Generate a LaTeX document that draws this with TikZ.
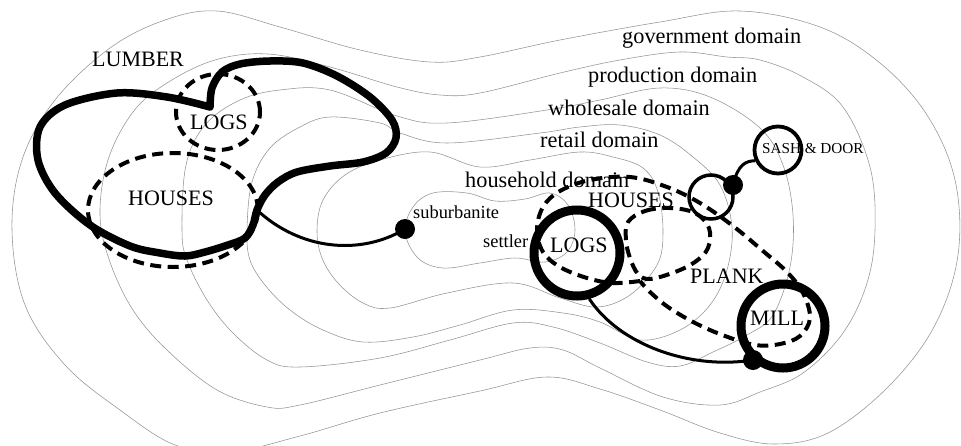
\documentclass[tikz,border=0pt]{standalone}
\usepackage{fontspec}
\setmainfont{Liberation Serif}
\newcommand\fdom{\fontsize{22.3}{26}\selectfont}
\newcommand\fcap{\fontsize{22}{26}\selectfont}
\newcommand\fsml{\fontsize{18.4}{22}\selectfont}
\newcommand\fsash{\fontsize{15.2}{18}\selectfont}
\begin{document}
\begin{tikzpicture}[x=1pt,y=-1pt,
  contour/.style={draw=black!42, line width=0.55pt},
  heavy/.style={line width=7.5pt, line join=round, line cap=round},
  dsh/.style={line width=4pt, dash pattern=on 11pt off 6.5pt},
  conn/.style={line width=3pt},
  dot/.style={circle, fill=black, inner sep=0pt, minimum size=20pt},
  ring/.style={circle, draw, inner sep=0pt},
  lab/.style={inner sep=0pt, anchor=base west, text=black}]

\fill[white] (0,0) rectangle (961,445);
\useasboundingbox (0,0) rectangle (961,445);

% ---------- contours ----------
\begin{scope}
\clip (0,0) rectangle (961,445);
\draw[contour] plot[smooth cycle, tension=0.6] coordinates {
 (12,230) (22,160) (55,100) (110,48) (165,20) (217,11) (280,27) (360,50) (430,62) (480,57)
 (560,40) (660,22) (740,11) (820,27) (880,63) (927,115) (955,180) (958,255) (935,325)
 (890,385) (830,432) (775,444) (720,433) (660,410) (600,389) (547,377) (480,391) (380,413)
 (300,436) (230,452) (175,445) (120,410) (65,365) (25,305)};
\draw[contour] plot[smooth cycle, tension=0.6] coordinates {
 (100,215) (108,160) (133,112) (167,83) (215,60) (268,54) (330,67) (397,87) (440,95) (480,93)
 (560,73) (620,60) (680,52) (727,57) (760,60) (803,77) (843,107) (870,167) (875,230)
 (867,283) (843,333) (803,373) (760,392) (720,405) (663,397) (600,368) (563,350) (530,348)
 (480,360) (380,385) (300,405) (267,407) (217,390) (167,350) (133,310) (110,262)};
\draw[contour] plot[smooth cycle, tension=0.6] coordinates {
 (182,230) (186,165) (205,125) (240,100) (280,90) (330,90) (397,116) (447,123) (547,110)
 (600,100) (660,88) (710,97) (760,128) (783,165) (793,215) (790,267) (773,315) (747,335)
 (713,352) (680,366) (647,362) (600,343) (553,327) (513,323) (450,340) (380,358) (300,367)
 (267,360) (233,333) (207,300) (187,260)};
\draw[contour] plot[smooth cycle, tension=0.6] coordinates {
 (247,230) (252,182) (270,148) (300,127) (330,117) (380,123) (400,133) (447,143) (540,133)
 (580,127) (620,125) (660,135) (693,157) (720,185) (732,227) (727,270) (710,305) (680,330)
 (640,340) (600,322) (563,313) (513,310) (460,325) (413,337) (363,342) (323,330) (290,310)
 (265,285) (250,260)};
\draw[contour] plot[smooth cycle, tension=0.6] coordinates {
 (317,230) (323,200) (345,175) (380,160) (430,152) (480,167) (530,160) (580,152) (613,157)
 (643,168) (658,192) (663,233) (657,265) (630,295) (597,307) (560,298) (513,283) (447,293)
 (390,308) (363,303) (338,283) (322,258)};
\draw[contour] plot[smooth cycle, tension=0.6] coordinates {
 (405,232) (413,207) (433,193) (467,193) (495,201) (525,199) (550,193) (568,205) (575,230)
 (567,252) (545,262) (515,258) (480,263) (443,268) (418,258)};
\end{scope}

% ---------- labels ----------
\node[lab] (tgov) at (622,43) {\fdom government domain};
\node[lab] (tprod) at (588,82) {\fdom production domain};
\node[lab] (twhole) at (548,115) {\fdom wholesale domain};
\node[lab] (tretail) at (540,147) {\fdom retail domain};
\node[lab] (thouse) at (465,187) {\fdom household domain};
\node[lab] (tlumber) at (92,66) {\fcap LUMBER};
\node[lab] (tlogsL) at (190,129) {\fcap LOGS};
\node[lab] (thousesL) at (128,205) {\fcap HOUSES};
\node[lab] (tsub) at (413,218) {\fsml suburbanite};
\node[lab] (tsettler) at (483,247) {\fsml settler};
\node[lab] (thousesR) at (588,207) {\fcap HOUSES};
\node[lab] (tlogsR) at (550,252) {\fcap LOGS};
\node[lab] (tplank) at (690,283) {\fcap PLANK};
\node[lab] (tmill) at (750,325) {\fcap MILL};
\node[lab] (tsash) at (762,153) {\fsash SASH \& DOOR};

% ---------- left cluster ----------
\draw[dsh] (218,112) ellipse [x radius=42pt, y radius=38pt];
\draw[dsh] (173,210) ellipse [x radius=85pt, y radius=57pt];
\draw[heavy] plot[smooth, tension=0.55] coordinates {
 (210,107) (212,88) (222,72) (240,64) (270,61) (303,63) (337,76) (370,97) (392,120) (396,138)
 (386,153) (363,162) (330,166) (297,172) (278,182) (265,195) (257,210) (253,225) (245,238)
 (228,245) (205,252) (185,256) (160,253) (130,246) (90,225) (55,193) (38,160) (40,127)
 (65,105) (117,93) (167,97) (210,107)};
\coordinate (lumbJ) at (257,210);
\node[dot] (subdot) at (405,229) {};
\draw[conn] (lumbJ) .. controls (300,250) and (360,256) .. (subdot.center);

% ---------- right cluster ----------
\draw[dsh] plot[smooth, tension=0.6] coordinates {
 (640,281) (613,283) (587,278) (560,267) (543,252) (537,230) (543,207) (560,191) (590,180)
 (630,177) (667,187) (700,203) (733,226) (763,251) (787,272) (803,293) (810,318) (800,336)
 (780,344) (755,345) (725,336) (695,323) (668,307) (650,292) (640,281)};
\draw[dsh] plot[smooth cycle, tension=0.6] coordinates {
 (628,222) (645,211) (670,208) (695,213) (709,228) (708,248) (695,262) (675,272) (650,279)
 (638,274) (630,258) (626,240)};

\node[ring, line width=9pt, minimum size=86pt] (logsR) at (577,253) {};
\node[ring, line width=9pt, minimum size=84pt] (mill) at (783,326) {};
\node[ring, line width=3.5pt, minimum size=44pt] (small) at (711,197) {};
\node[ring, line width=3.8pt, minimum size=47pt] (sash) at (778,150) {};

\node[dot] (smalldot) at (733,185) {};
\node[dot] (milldot) at (753,360) {};
\draw[conn] (logsR.-75) .. controls (620,345) and (690,370) .. (milldot.center);
\draw[conn] (smalldot.center) .. controls (738,164) and (746,161) .. (sash.205);
\end{tikzpicture}
\end{document}
